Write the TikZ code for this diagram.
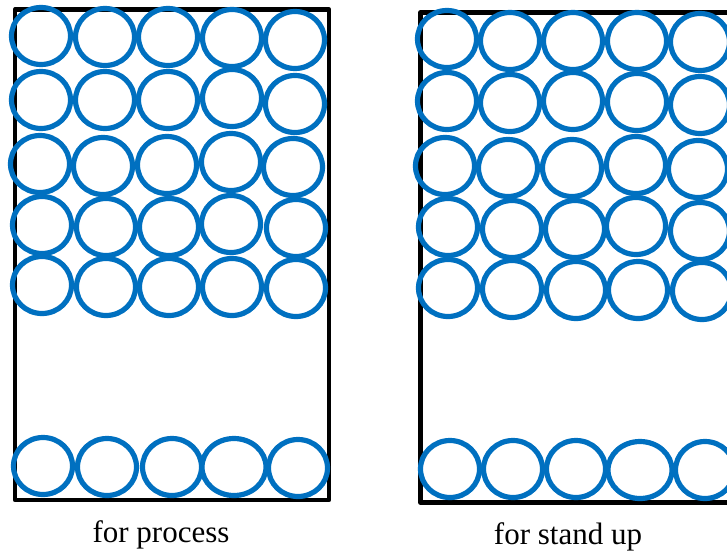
\documentclass[tikz,border=0pt]{standalone}
\usepackage{fontspec}
\setmainfont{Liberation Serif}
\definecolor{ringblue}{RGB}{0,112,192}
\tikzset{
  tray/.style={draw=black,line width=4.8pt,line join=round},
  ring/.style={draw=ringblue,line width=5.2pt,x radius=29.5pt,y radius=28.5pt},
  caption/.style={anchor=base,inner sep=0pt,font=\fontsize{31}{35}\selectfont}
}
\begin{document}
\begin{tikzpicture}[x=1pt,y=-1pt]
\path[use as bounding box] (0,0) rectangle (727,552);
% left box: for process
\draw[tray] (15,9.5) rectangle (329,500);
\draw[ring] (41,36) circle;
\draw[ring] (105,37) circle;
\draw[ring] (168,37) circle;
\draw[ring] (232,38) circle;
\draw[ring] (295,40) circle;
\draw[ring] (41,100) circle;
\draw[ring] (105,100) circle;
\draw[ring] (168,100) circle;
\draw[ring] (232,98) circle;
\draw[ring] (295,104) circle;
\draw[ring] (40,164) circle;
\draw[ring] (103,166) circle;
\draw[ring] (167,165) circle;
\draw[ring] (231,162) circle;
\draw[ring] (293,167) circle;
\draw[ring] (42,225) circle;
\draw[ring] (106,227) circle;
\draw[ring] (169,227) circle;
\draw[ring] (231,224) circle;
\draw[ring] (296,228) circle;
\draw[ring] (42,285) circle;
\draw[ring] (106,287) circle;
\draw[ring] (169,287) circle;
\draw[ring] (232,287) circle;
\draw[ring] (296,288) circle;
\draw[ring] (43,466) circle;
\draw[ring] (107,467) circle;
\draw[ring] (172,467) circle;
\draw[ring,x radius=32pt] (234,467) circle;
\draw[ring] (298,468) circle;
\node[caption] (process) at (161,542) {for process};
% right box: for stand up
\draw[tray] (420.5,12.5) rectangle (745,502.5);
\draw[ring] (447,39) circle;
\draw[ring] (510,41) circle;
\draw[ring] (573,41) circle;
\draw[ring] (637,41) circle;
\draw[ring] (700,42) circle;
\draw[ring] (447,101) circle;
\draw[ring] (510,103) circle;
\draw[ring] (573,101) circle;
\draw[ring] (637,102) circle;
\draw[ring] (700,105) circle;
\draw[ring] (445,166) circle;
\draw[ring] (508,168) circle;
\draw[ring] (572,168) circle;
\draw[ring] (636,165) circle;
\draw[ring] (698,169) circle;
\draw[ring] (448,227) circle;
\draw[ring] (512,229) circle;
\draw[ring] (575,229) circle;
\draw[ring] (636,226) circle;
\draw[ring] (700,231) circle;
\draw[ring] (448,288) circle;
\draw[ring] (512,289) circle;
\draw[ring] (576,290) circle;
\draw[ring] (638,290) circle;
\draw[ring] (702,291) circle;
\draw[ring] (450,469) circle;
\draw[ring] (513,469) circle;
\draw[ring] (576,469) circle;
\draw[ring,x radius=32pt] (640,470) circle;
\draw[ring] (705,470) circle;
\node[caption] (standup) at (568,544) {for stand up};
\end{tikzpicture}
\end{document}
